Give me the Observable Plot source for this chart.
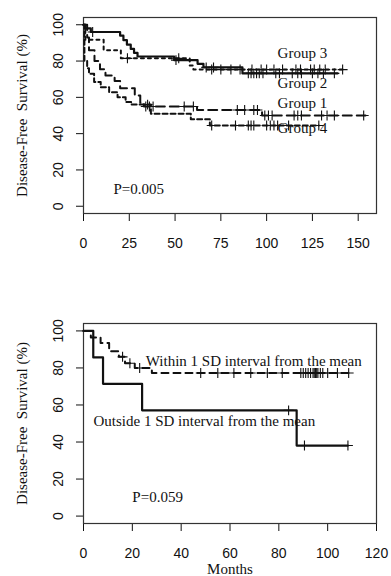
<!DOCTYPE html>
<html><head><meta charset="utf-8">
<script src="https://cdn.jsdelivr.net/npm/d3@7"></script>
<script src="https://cdn.jsdelivr.net/npm/@observablehq/plot@0.6"></script>
<style>
body{margin:0;background:#fff;}
#c{width:391px;}
#c svg{display:block;background:#fff;}
</style></head><body><div id="c"></div>
<script>
// ---------- Top chart data ----------
const topXTicks = [0,25,50,75,100,125,150];
const yTicks = [0,20,40,60,80,100];

const g1Times = [0,2,3,6,9,12,17,20,28,31,33,62,97.5,154];
const g1Surv  = [100,93,86,80,75.5,72,69,65,61,57,55,53,50,50];
const g1Cens  = [34,36,38,55,60,84,88,93,95,99,101,103,115,117,119,130,133,137,153];

const g2Times = [0,1,11,20.4,58,60,141.5];
const g2Surv  = [100,91.7,86,81.5,77.5,75.3,75.3];
const g2Cens  = [24,52,70,75,80.5,85.5,92,97,100,104,108.7,116,118.5,124,126,129,132,141.5];

const g3Times = [0,1,4,20,21.8,23.7,25.8,27.6,29.5,49.5,62.3,65.5,86.8,138.7];
const g3Surv  = [100,98,96,94,91.5,89,86.7,84.5,82.5,80.5,78.5,76.5,73.2,73.2];
const g3Cens  = [5,50.5,67,71,90,91.5,93,94.5,96,98,105,107,114,117,119,125,128,131,137];

const g4Times = [0,0.5,2,3,5.8,9.4,14,18.6,23,26,36.8,58.6,69,128.5];
const g4Surv  = [100,80,76,73,68.5,65.5,62.8,60,57.5,56,51,48,44.5,44.5];
const g4Cens  = [35,70,83,90,91.5,93,100,102,104,106,112,128.5];

const topLabels = ["Group 3","Group 2","Group 1","Group 4"];
const topLabelX = [106,106,106,106];
const topLabelY = [84.5,68,57,42.8];
const topP = "P=0.005";

// ---------- Bottom chart data ----------
const botXTicks = [0,20,40,60,80,100,120];
const wTimes = [0,3,7,10.5,14.5,17,21,28,108.6];
const wSurv  = [100,96.5,93.5,89,86,82.5,80,77.3,77.3];
const wCens  = [16,19,23,48,55,61.6,68.5,75.3,81.4,89,90,91,92,93,94,94.5,95,95.5,96,97,98,100,104,108.6];

const oTimes = [0,4,8,24,87.3,108.3];
const oSurv  = [100,85.7,71.4,57.1,38.1,38.1];
const oCens  = [84,90.5,108.3];

const botLabels = ["Within 1 SD interval from the mean","Outside 1 SD interval from the mean"];
const botLabelX = [25.5,4.1];
const botLabelY = [83.8,51];
const botP = "P=0.059";

const yTitle = "Disease-Free\u00a0 Survival (%)";
const xTitle = "Months";

// ---------- helpers ----------
const INK = "#111";
const SERIF = "Liberation Serif, Times New Roman, serif";
const SANS = "Liberation Sans, Arial, sans-serif";
const rows = (times, surv) => times.map((t,i)=>({t, s:surv[i]}));
const stepAt = (times, surv, t) => { let v = surv[0]; for (let i=0;i<times.length;i++) if (times[i] <= t) v = surv[i]; return v; };
const censRows = (times, surv, cens) => cens.map(t=>({t, s:stepAt(times, surv, t)}));

function curveMarks(times, surv, cens, dash, width) {
  return [
    Plot.line(rows(times, surv), {x:"t", y:"s", curve:"step-after", stroke:INK, strokeWidth:width, strokeDasharray:dash}),
    Plot.dot(censRows(times, surv, cens), {x:"t", y:"s", symbol:"plus", r:3.3, stroke:INK, strokeWidth:1.1})
  ];
}

function axes(xTicks) {
  return [
    Plot.axisY({ticks:yTicks, tickSize:7, tickRotate:-90, tickPadding:14, fontSize:14, fontFamily:SANS, label:null, stroke:INK, color:INK}),
    Plot.axisX({ticks:xTicks, tickSize:8, tickPadding:17, fontSize:14, fontFamily:SANS, label:null, stroke:INK, color:INK}),
    Plot.frame({stroke:"#333", strokeWidth:1.2})
  ];
}

// ---------- top chart ----------
const topPlot = Plot.plot({
  width:391, height:290,
  marginLeft:83, marginRight:15, marginTop:17, marginBottom:77,
  x:{domain:[0,160]},
  y:{domain:[-4,104]},
  style:{background:"#fff"},
  marks:[
    ...axes(topXTicks),
    ...curveMarks(g1Times, g1Surv, g1Cens, "9,5", 2),
    ...curveMarks(g2Times, g2Surv, g2Cens, "3,4", 2),
    ...curveMarks(g3Times, g3Surv, g3Cens, null, 2.2),
    ...curveMarks(g4Times, g4Surv, g4Cens, "5,3", 2),
    Plot.text(topLabels.map((l,i)=>({l, x:topLabelX[i], y:topLabelY[i]})), {x:"x", y:"y", text:"l", textAnchor:"start", fontSize:15, fontFamily:SERIF, fill:INK}),
    Plot.text([{l:topP, x:16.4, y:9.2}], {x:"x", y:"y", text:"l", textAnchor:"start", fontSize:15, fontFamily:SERIF, fill:INK}),
    Plot.text([yTitle], {frameAnchor:"left", textAnchor:"middle", lineAnchor:"middle", dx:-61, rotate:-90, fontSize:15, fontFamily:SERIF, fill:INK})
  ]
});

// ---------- bottom chart ----------
const botPlot = Plot.plot({
  width:391, height:286,
  marginLeft:83, marginRight:15, marginTop:33, marginBottom:53,
  x:{domain:[0,120]},
  y:{domain:[-4,104]},
  style:{background:"#fff"},
  marks:[
    ...axes(botXTicks),
    ...curveMarks(wTimes, wSurv, wCens, "7,5", 2),
    ...curveMarks(oTimes, oSurv, oCens, null, 2.2),
    Plot.text(botLabels.map((l,i)=>({l, x:botLabelX[i], y:botLabelY[i]})), {x:"x", y:"y", text:"l", textAnchor:"start", fontSize:15, fontFamily:SERIF, fill:INK}),
    Plot.text([{l:botP, x:20, y:10}], {x:"x", y:"y", text:"l", textAnchor:"start", fontSize:15, fontFamily:SERIF, fill:INK}),
    Plot.text([yTitle], {frameAnchor:"left", textAnchor:"middle", lineAnchor:"middle", dx:-61, rotate:-90, fontSize:15, fontFamily:SERIF, fill:INK}),
    Plot.text([xTitle], {frameAnchor:"bottom", lineAnchor:"middle", dy:46, fontSize:15, fontFamily:SERIF, fill:INK})
  ]
});

document.getElementById("c").append(topPlot, botPlot);
</script>
</body></html>
